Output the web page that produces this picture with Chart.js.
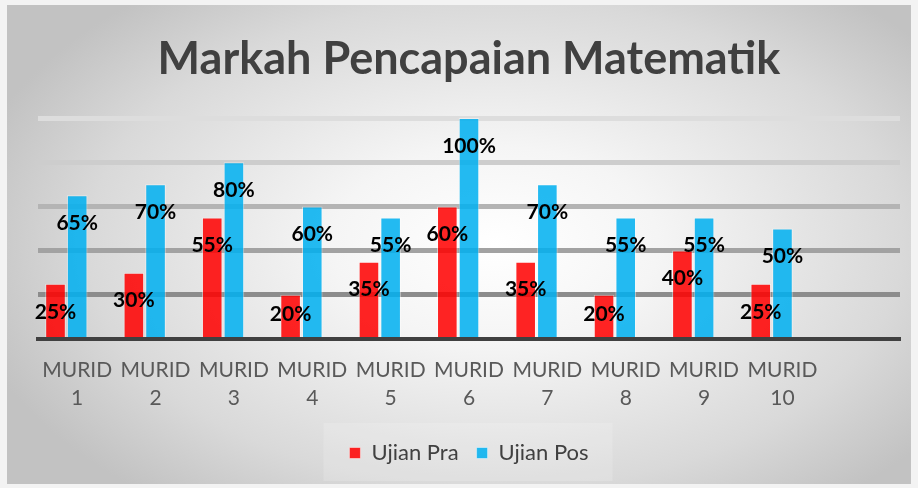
<!DOCTYPE html>
<html>
<head>
<meta charset="utf-8">
<script src="https://cdn.jsdelivr.net/npm/chart.js@4"></script>
<style>
  html, body { margin: 0; padding: 0; background: #f3f3f3; }
  #frame {
    position: absolute; left: 7px; top: 5px; width: 904px; height: 479px;
    background: radial-gradient(ellipse 60% 68% at 54% 50%, #ffffff 0%, #f5f5f5 30%, #d9d9d9 75%, #c2c2c2 100%);
  }
  #wrap { position: absolute; left: 0; top: 0; width: 918px; height: 488px; }
</style>
</head>
<body>
<div id="frame"></div>
<div id="wrap"><canvas id="chart" width="918" height="488"></canvas></div>
<script>
// données
const categories = ['MURID 1', 'MURID 2', 'MURID 3', 'MURID 4', 'MURID 5', 'MURID 6', 'MURID 7', 'MURID 8', 'MURID 9', 'MURID 10'];
const ujianPra = [25, 30, 55, 20, 35, 60, 35, 20, 40, 25];
const ujianPos = [65, 70, 80, 60, 55, 100, 70, 55, 55, 50];
const yTicks = [0, 20, 40, 60, 80, 100];

const gridColors = { 0: '#404040', 20: '#8c8c8c', 40: '#a2a2a2', 60: '#b4b4b4', 80: '#cdcdcd', 100: '#dddddd' };

// libellés sur deux lignes + une catégorie vide à droite (comme dans Excel)
const labels = categories.map(c => c.split(' ')).concat([['', '']]);

// étiquettes de valeur (pas de plugin datalabels disponible)
const valueLabels = {
  id: 'valueLabels',
  afterDatasetsDraw(chart) {
    const ctx = chart.ctx;
    const base = chart.scales.y.getPixelForValue(0);
    ctx.save();
    ctx.font = 'bold 21px Lato';
    ctx.fillStyle = '#000000';
    ctx.textAlign = 'center';
    ctx.textBaseline = 'middle';
    [0, 1].forEach(i => {
      chart.getDatasetMeta(i).data.forEach((bar, j) => {
        const v = chart.data.datasets[i].data[j];
        if (v == null) return;
        const y = Math.min(bar.y + 28, base - 25);
        ctx.fillText(v + '%', bar.x, y);
      });
    });
    ctx.restore();
  }
};

// petit fond clair derrière la légende
const legendBox = {
  id: 'legendBox',
  beforeDraw(chart) {
    const boxes = chart.legend && chart.legend.legendHitBoxes;
    if (!boxes || !boxes.length) return;
    const left = Math.min(...boxes.map(b => b.left)) - 26;
    const right = Math.max(...boxes.map(b => b.left + b.width)) + 24;
    const mid = boxes[0].top + boxes[0].height / 2;
    const ctx = chart.ctx;
    ctx.save();
    ctx.fillStyle = 'rgba(255, 255, 255, 0.16)';
    ctx.fillRect(left, mid - 30, right - left, 58);
    ctx.restore();
  }
};

new Chart(document.getElementById('chart').getContext('2d'), {
  type: 'bar',
  data: {
    labels: labels,
    datasets: [
      {
        label: 'Ujian Pra',
        data: ujianPra,
        backgroundColor: 'rgba(255, 0, 0, 0.86)',
        borderColor: 'rgba(255, 255, 255, 0.45)',
        borderWidth: 1
      },
      {
        label: 'Ujian Pos',
        data: ujianPos,
        backgroundColor: 'rgba(0, 176, 240, 0.86)',
        borderColor: 'rgba(255, 255, 255, 0.45)',
        borderWidth: 1
      },
      {
        // série vide : décale le groupe de barres vers la gauche
        label: '',
        data: [],
        backgroundColor: 'rgba(0,0,0,0)'
      }
    ]
  },
  options: {
    responsive: false,
    animation: false,
    categoryPercentage: 0.83,
    barPercentage: 0.95,
    layout: { padding: { left: 38, right: 18, top: 0, bottom: 14 } },
    scales: {
      x: {
        grid: { display: false, drawTicks: false },
        border: { display: true, color: '#404040', width: 4 },
        ticks: {
          autoSkip: false, maxRotation: 0, padding: 18,
          color: '#595959',
          font: { family: 'Lato', size: 21, lineHeight: 1.3 }
        },
        afterFit(scale) { scale.height = 85; }
      },
      y: {
        min: 0, max: 100,
        afterBuildTicks(scale) { scale.ticks = yTicks.map(v => ({ value: v })); },
        ticks: { display: false },
        border: { display: false },
        grid: {
          drawTicks: false,
          lineWidth: ctx => ctx.tick && ctx.tick.value === 0 ? 4 : 5,
          color: ctx => gridColors[ctx.tick ? ctx.tick.value : 0]
        }
      }
    },
    plugins: {
      title: {
        display: true,
        text: 'Markah Pencapaian Matematik',
        color: '#404040',
        font: { family: 'Lato', size: 45, weight: 'bold', lineHeight: 1.2 },
        padding: { top: 32, bottom: 32 }
      },
      legend: {
        position: 'bottom',
        labels: {
          boxWidth: 11, boxHeight: 11, padding: 18,
          color: '#404040',
          font: { family: 'Lato', size: 22 },
          filter: item => item.text !== ''
        }
      },
      tooltip: { enabled: false }
    }
  },
  plugins: [legendBox, valueLabels]
});
</script>
</body>
</html>
